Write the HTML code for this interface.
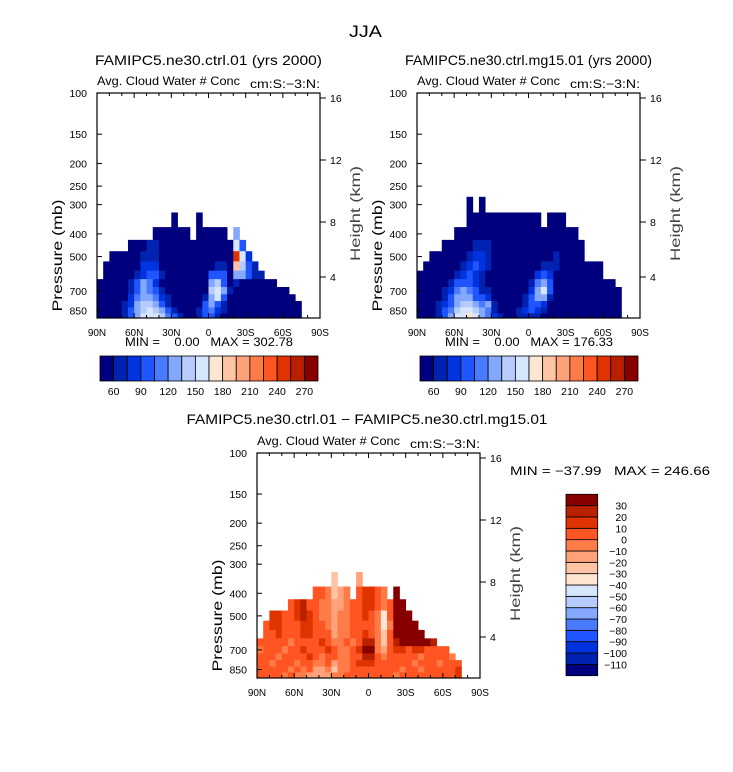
<!DOCTYPE html>
<html><head><meta charset="utf-8"><style>
html,body{margin:0;padding:0;background:#fff;}
svg{display:block;font-family:"Liberation Sans",sans-serif;}
.pre{white-space:pre;}
</style></head><body>
<svg id="chart" width="733" height="772" viewBox="0 0 733 772" xmlns="http://www.w3.org/2000/svg">
<text x="365.5" y="37" font-size="17" text-anchor="middle" textLength="33" lengthAdjust="spacingAndGlyphs">JJA</text>
<g id="layer"></g>
</svg>
<script>
const n=null;
const plevs=[300,350,400,450,500,550,600,650,700,750,800,850,900];
const latCols=[87.5,82.5,77.5,72.5,67.5,62.5,57.5,52.5,47.5,42.5,37.5,32.5,27.5,22.5,17.5,12.5,7.5,2.5,-2.5,-7.5,-12.5,-17.5,-22.5,-27.5,-32.5,-37.5,-42.5,-47.5,-52.5,-57.5,-62.5,-67.5,-72.5,-77.5,-82.5,-87.5];
const levelsAbs=[60,75,90,105,120,135,150,165,180,195,210,225,240,255,270];
const levelsDiff=[-110,-100,-90,-80,-70,-60,-50,-40,-30,-20,-10,0,10,20,30];
const absTickLabels=["60","90","120","150","180","210","240","270"];
const diffTickLabels=["30","20","10","0","\u221210","\u221220","\u221230","\u221240","\u221250","\u221260","\u221270","\u221280","\u221290","\u2212100","\u2212110"];
const presTicks=[100,150,200,250,300,400,500,700,850];
const latTicks=[90,60,30,0,-30,-60,-90];
const latTickLabels=["90N","60N","30N","0","30S","60S","90S"];
const heightTicks=["16","12","8","4"];

const top1=[650,550,500,500,500,450,450,450,450,400,400,400,350,400,400,450,350,400,400,400,400,450,400,450,500,550,600,650,650,700,700,750,800,n,n,n];
const vals1=[
[30,30,30,30,30,30,30,30,30,30,30,30,30,30,30,30,30,30,30,30,30,30,30,30,30,30,30,30,30,30,30,30,30,30,30,30],
[30,30,30,30,30,30,30,30,30,30,30,30,30,30,30,30,30,30,30,30,30,30,30,30,30,30,30,30,30,30,30,30,30,30,30,30],
[30,30,30,30,30,30,30,30,30,30,30,30,30,30,30,30,30,30,30,30,30,30,120,30,30,30,30,30,30,30,30,30,30,30,30,30],
[30,30,30,30,30,30,30,30,60,60,30,30,30,30,30,30,30,30,30,30,30,30,150,90,30,30,30,30,30,30,30,30,30,30,30,30],
[30,30,30,30,30,30,30,70,70,70,30,30,30,30,30,30,30,30,30,30,30,30,250,150,80,30,30,30,30,30,30,30,30,30,30,30],
[30,30,30,30,30,30,40,80,80,80,30,30,30,30,30,30,30,30,30,70,70,30,180,140,100,70,30,30,30,30,30,30,30,30,30,30],
[30,30,30,30,30,30,60,80,100,100,70,30,30,30,30,30,30,30,90,90,90,30,120,130,90,60,60,30,30,30,30,30,30,30,30,30],
[30,30,30,30,30,60,90,120,110,80,50,30,30,30,30,30,30,30,120,140,90,40,60,40,30,30,30,30,30,30,30,30,30,30,30,30],
[30,30,30,30,40,70,100,120,110,90,70,40,30,30,30,30,30,50,140,160,120,70,30,30,30,30,30,30,30,30,30,30,30,30,30,30],
[30,30,30,30,50,80,110,130,130,110,80,60,30,30,30,30,30,70,130,150,90,50,30,30,30,30,30,30,30,30,30,30,30,30,30,30],
[30,30,30,30,60,80,120,140,145,130,100,70,50,30,30,30,40,90,120,100,70,40,30,30,30,30,30,30,30,30,30,30,30,30,30,30],
[30,30,30,40,60,90,120,145,155,145,120,90,70,50,40,30,60,100,110,80,60,30,30,30,30,30,30,30,30,30,30,30,30,30,30,30],
[30,30,30,40,60,90,130,150,160,150,140,110,90,70,50,40,60,90,100,70,40,30,30,30,30,30,30,30,30,30,30,30,30,30,30,30]];

const top2=[600,550,500,500,450,450,400,400,300,350,300,350,350,350,350,350,350,350,350,350,400,350,350,350,400,400,450,550,550,550,650,650,700,n,n,n];
const vals2=[
[30,30,30,30,30,30,30,30,30,30,30,30,30,30,30,30,30,30,30,30,30,30,30,30,30,30,30,30,30,30,30,30,30,30,30,30],
[30,30,30,30,30,30,30,30,30,30,30,30,30,30,30,30,30,30,30,30,30,30,30,30,30,30,30,30,30,30,30,30,30,30,30,30],
[30,30,30,30,30,30,30,30,30,40,50,40,30,30,30,30,30,30,30,30,30,30,30,30,30,30,30,30,30,30,30,30,30,30,30,30],
[30,30,30,30,30,30,30,30,40,60,70,60,30,30,30,30,30,30,30,30,30,30,50,40,30,30,30,30,30,30,30,30,30,30,30,30],
[30,30,30,30,30,30,30,40,60,80,80,70,30,30,30,30,30,30,30,30,40,50,70,50,30,30,30,30,30,30,30,30,30,30,30,30],
[30,30,30,30,30,40,50,60,80,90,80,60,30,30,30,30,30,30,40,50,70,70,60,40,30,30,30,30,30,30,30,30,30,30,30,30],
[30,30,30,30,40,50,70,80,90,80,60,40,30,30,30,30,30,30,50,80,100,80,50,30,30,30,30,30,30,30,30,30,30,30,30,30],
[30,30,30,40,50,70,90,100,100,80,60,50,30,30,30,30,30,30,70,110,130,90,40,30,30,30,30,30,30,30,30,30,30,30,30,30],
[30,30,30,50,60,80,110,120,110,90,70,60,30,30,30,30,30,40,80,130,150,100,40,30,30,30,30,30,30,30,30,30,30,30,30,30],
[30,30,30,50,70,90,120,130,120,100,90,80,40,30,30,30,40,60,90,120,120,70,30,30,30,30,30,30,30,30,30,30,30,30,30,30],
[30,30,40,60,80,100,130,140,140,120,110,120,60,40,30,30,50,70,90,100,80,50,30,30,30,30,30,30,30,30,30,30,30,30,30,30],
[30,30,40,60,90,110,140,155,155,140,120,110,70,50,40,40,60,80,90,80,60,40,30,30,30,30,30,30,30,30,30,30,30,30,30,30],
[30,30,40,70,100,120,150,160,170,150,130,110,80,60,50,40,60,70,70,60,40,30,30,30,30,30,30,30,30,30,30,30,30,30,30,30]];

const top3=[650,550,500,500,500,450,450,450,450,400,400,400,350,400,400,450,350,400,400,400,400,450,400,450,500,550,600,650,650,700,700,750,800,n,n,n];
const vals3=[
[0,0,0,0,0,0,0,0,0,0,0,0,0,0,0,0,0,0,0,0,0,0,0,0,0,0,0,0,0,0,0,0,0,0,0,0],
[0,0,0,0,0,0,0,0,0,0,0,0,-25,0,0,0,-20,0,0,0,0,0,0,0,0,0,0,0,0,0,0,0,0,0,0,0],
[0,0,0,0,0,0,0,0,-5,5,0,-5,-25,-15,-5,5,0,15,15,5,-5,0,40,0,0,0,0,0,0,0,0,0,0,0,0,0],
[0,0,0,0,0,5,15,20,5,0,-5,-10,-20,-15,-5,0,5,15,10,5,-10,0,40,40,0,0,0,0,0,0,0,0,0,0,0,0],
[0,0,15,15,5,5,15,20,10,5,-5,-10,-15,-10,-5,0,5,10,5,-5,-35,0,40,40,40,0,0,0,0,0,0,0,0,0,0,0],
[0,0,10,15,5,0,5,10,15,5,0,-10,-15,-10,-5,0,0,5,5,-10,-35,-5,40,40,40,40,0,0,0,0,0,0,0,0,0,0],
[0,0,5,10,0,0,5,10,10,0,5,0,-15,-10,-5,0,5,10,5,-10,-30,0,40,40,40,40,40,20,0,0,0,0,0,0,0,0],
[0,0,5,5,0,-5,5,5,0,5,10,0,-10,-5,0,-5,5,25,25,-5,-25,0,25,40,40,40,40,30,25,0,0,0,0,0,0,0],
[-5,0,0,0,-5,0,5,10,5,0,5,10,0,-5,-5,0,10,35,35,-5,-15,5,10,10,5,10,10,5,5,0,0,0,0,0,0,0],
[0,5,0,-5,0,5,0,5,10,0,-5,5,0,-10,-5,0,5,20,20,0,-10,5,5,5,0,0,-5,0,5,0,5,-5,0,0,0,0],
[0,5,-5,0,5,0,-5,0,5,-10,-5,0,-15,-10,-5,5,10,10,10,5,0,5,0,0,0,-5,0,5,0,-5,0,0,5,0,0,0],
[5,0,0,5,0,-5,0,-5,0,-15,-15,-10,-30,-10,-5,5,5,0,0,5,0,0,0,-5,0,0,-5,0,5,0,5,0,10,0,0,0],
[5,5,0,0,-5,0,-5,-10,-15,-15,-20,-15,-10,-5,0,5,5,5,0,0,5,0,-5,0,0,5,0,0,5,0,5,5,10,0,0,0]];

const palette=["#00007f","#0022b0","#0033e0","#1f55ff","#4a7aff","#85a8ff","#b6ccff","#d6e6ff","#ffe6d2","#ffc4a6","#ffa27a","#ff7b48","#ff5522","#e03400","#b82000","#870000"];

const NS="http://www.w3.org/2000/svg";
const layer=document.getElementById('layer');
function mk(tag,attrs,parent){const e=document.createElementNS(NS,tag);for(const k in attrs)e.setAttribute(k,attrs[k]);(parent||layer).appendChild(e);return e;}
function colorFor(v,levels){let k=0;for(const l of levels){if(v>=l)k++;}return palette[k];}

function panel(cfg){
  const {x0,y0,sc,name,vals,top,levels}=cfg;
  const W=223,H=225;
  const xOf=lat=>x0+(90-lat)/180*W;
  const yOf=p=>Math.min(y0+H,y0+sc*Math.log10(p/100));
  const g=mk('g',{});
  
  
  const cells=mk('g',{},g);
  
  
  for(let r=0;r<plevs.length;r++){
    const p=plevs[r];
    const pt=r===0?p*Math.sqrt(p/plevs[1]):Math.sqrt(plevs[r-1]*p);
    const pb=r===plevs.length-1?1000:Math.sqrt(p*plevs[r+1]);
    for(let c=0;c<latCols.length;c++){
      if(top[c]===null||p<top[c])continue;
      const xa=xOf(latCols[c]+2.5),xb=xOf(latCols[c]-2.5);
      const ya=yOf(pt),yb=yOf(pb);
      const col=colorFor(vals[r][c],levels);
      const rc=mk('rect',{x:xa.toFixed(2),y:ya.toFixed(2),width:(xb-xa+0.4).toFixed(2),height:(yb-ya+0.4).toFixed(2),fill:col},cells);
      
      
    }
  }
  const fr=mk('rect',{x:x0,y:y0,width:W,height:H,fill:'none',stroke:'#000','stroke-width':1.2},g);
  
  
  for(let lat=90;lat>=-90;lat-=10){
    const x=xOf(lat),major=(lat%30===0);
    const L=major?5:3;
    mk('line',{x1:x,y1:y0+H,x2:x,y2:y0+H-L,stroke:'#000','stroke-width':1},g);
    mk('line',{x1:x,y1:y0,x2:x,y2:y0+L,stroke:'#000','stroke-width':1},g);
  }
  latTicks.forEach((lat,i)=>{
    const t=mk('text',{x:xOf(lat),y:y0+H+18,'font-size':10,'text-anchor':'middle'},g);
    
    
    t.textContent=latTickLabels[i];
  });
  presTicks.forEach(p=>{
    const y=yOf(p);
    mk('line',{x1:x0,y1:y,x2:x0+5,y2:y,stroke:'#000','stroke-width':1},g);
    const t=mk('text',{x:x0-10,y:y+4,'font-size':10.5,'text-anchor':'end'},g);
    
    
    t.textContent=String(p);
  });
  const hOff=[5,67,129,184];
  heightTicks.forEach((h,i)=>{
    const y=y0+hOff[i];
    mk('line',{x1:x0+W,y1:y,x2:x0+W+6,y2:y,stroke:'#000','stroke-width':1},g);
    const t=mk('text',{x:x0+W+10,y:y+4,'font-size':10.5},g);
    
    
    t.textContent=h;
  });
  const yt=mk('text',{x:0,y:0,'font-size':14,'text-anchor':'middle',transform:`translate(${x0-35},${y0+H/2+50}) rotate(-90)`,textLength:112,lengthAdjust:'spacingAndGlyphs'},g);
  
  
  yt.textContent='Pressure (mb)';
  const ht=mk('text',{x:0,y:0,'font-size':14,'text-anchor':'middle',transform:`translate(${x0+W+40},${y0+H/2+8}) rotate(-90)`,textLength:95,lengthAdjust:'spacingAndGlyphs',fill:'#444'},g);
  
  
  ht.textContent='Height (km)';
  const s1=mk('text',{x:x0,y:y0-8,'font-size':12,textLength:143,lengthAdjust:'spacingAndGlyphs'},g);
  
  
  s1.textContent='Avg. Cloud Water # Conc';
  const s2=mk('text',{x:x0+W,y:y0-5,'font-size':12,'text-anchor':'end',textLength:70,lengthAdjust:'spacingAndGlyphs'},g);
  
  
  s2.textContent='cm:S:\u22123:N:';
  if(cfg.title){
    const tt=mk('text',{x:x0+W/2,y:y0-28,'font-size':14,'text-anchor':'middle',textLength:cfg.titleLen,lengthAdjust:'spacingAndGlyphs'},g);
    
    
    tt.textContent=cfg.title;
  }
}
function hbar(x0,y0,name,minmax){
  const g=mk('g',{});
  
  
  const W=218,H=25,bw=W/palette.length;
  palette.forEach((c,i)=>{
    const r=mk('rect',{x:x0+i*bw,y:y0,width:bw,height:H,fill:c,stroke:'#000','stroke-width':0.8},g);
    
    
  });
  absTickLabels.forEach((l,i)=>{
    const t=mk('text',{x:x0+(1+2*i)*bw,y:y0+H+14,'font-size':10.5,'text-anchor':'middle'},g);
    
    
    t.textContent=l;
  });
  const m=mk('text',{x:x0+109,y:y0-10,'font-size':12,'text-anchor':'middle','class':'pre',textLength:168,lengthAdjust:'spacingAndGlyphs'},g);
  
  
  m.textContent=minmax;
}
panel({x0:97,y0:93,sc:234,name:'ctrl-panel',vals:vals1,top:top1,levels:levelsAbs,title:'FAMIPC5.ne30.ctrl.01 (yrs 2000)',titleLen:227});
panel({x0:417,y0:93,sc:234,name:'mg15-panel',vals:vals2,top:top2,levels:levelsAbs,title:'FAMIPC5.ne30.ctrl.mg15.01 (yrs 2000)',titleLen:247});
panel({x0:257,y0:453,sc:233,name:'diff-panel',vals:vals3,top:top3,levels:levelsDiff,title:null});
hbar(100,356,'ctrl-colorbar','MIN =    0.00   MAX = 302.78');
hbar(420,356,'mg15-colorbar','MIN =    0.00   MAX = 176.33');
const dt=mk('text',{x:367,y:424,'font-size':14,'text-anchor':'middle',textLength:361,lengthAdjust:'spacingAndGlyphs'});


dt.textContent='FAMIPC5.ne30.ctrl.01 \u2212 FAMIPC5.ne30.ctrl.mg15.01';
const dm=mk('text',{x:510,y:475,'font-size':12,textLength:200,lengthAdjust:'spacingAndGlyphs','class':'pre'});


dm.textContent='MIN = \u221237.99   MAX = 246.66';
const vg=mk('g',{});


const vbh=181.4/palette.length;
palette.forEach((c,i)=>{
  const r=mk('rect',{x:566,y:494.3+(palette.length-1-i)*vbh,width:31.7,height:vbh,fill:c,stroke:'#000','stroke-width':0.8},vg);
  
  
});
diffTickLabels.forEach((l,i)=>{
  const t=mk('text',{x:627,y:494.3+(i+1)*vbh+4,'font-size':10.5,'text-anchor':'end'},vg);
  
  
  t.textContent=l;
});
</script>
</body></html>
